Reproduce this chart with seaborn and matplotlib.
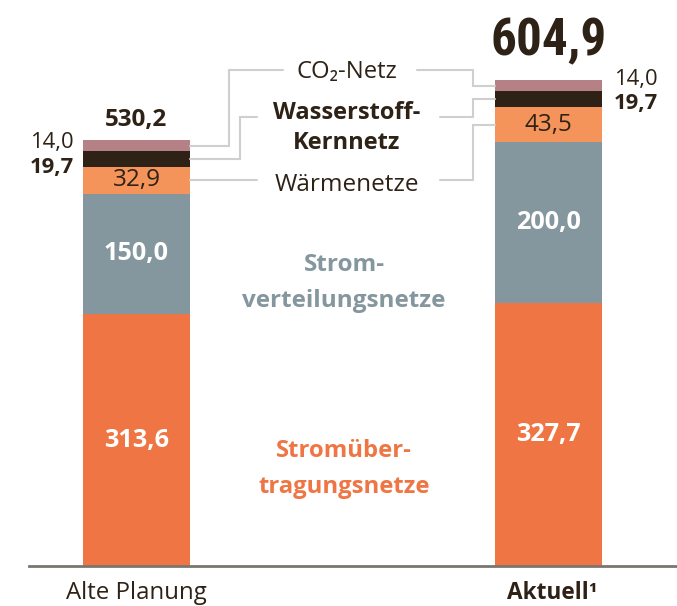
import matplotlib
matplotlib.use("Agg")
import matplotlib.pyplot as plt
from matplotlib import font_manager
import seaborn as sns
import pandas as pd
import numpy as np

# ---- data ----
categories = ["Alte Planung", "Aktuell¹"]
strom_uebertragung = [313.6, 327.7]
strom_verteilung = [150.0, 200.0]
waermenetze = [32.9, 43.5]
wasserstoff = [19.7, 19.7]
co2_netz = [14.0, 14.0]
totals = ["530,2", "604,9"]

series_names = ["Stromübertragungsnetze", "Stromverteilungsnetze", "Wärmenetze",
                "Wasserstoff-Kernnetz", "CO2-Netz"]
series_values = [strom_uebertragung, strom_verteilung, waermenetze, wasserstoff, co2_netz]
colors = ["#EF7644", "#85979E", "#F4945A", "#2E2216", "#B58086"]

sns.set_theme(style="white")
plt.rcParams["font.family"] = ["Open Sans", "DejaVu Sans"]
DARK = "#2E2216"

# find a condensed bold face for the big total, if installed
big_font = None
prefs = ["roboto condensed", "open sans condensed", "opensans_condensed",
         "dejavu sans condensed", "dejavusanscondensed", "liberation sans narrow",
         "liberationsansnarrow"]
cands = []
for f in font_manager.fontManager.ttflist:
    key = (f.name + " " + f.fname).lower()
    if ("condensed" in key or "narrow" in key) and (
            (isinstance(f.weight, int) and f.weight >= 600) or
            str(f.weight) in ("bold", "heavy", "black", "extra bold", "semibold", "demibold")):
        rank = len(prefs)
        for k, p in enumerate(prefs):
            if p in key:
                rank = k
                break
        w = f.weight if isinstance(f.weight, int) else 700
        cands.append((rank, -w, f.fname))
if cands:
    cands.sort()
    big_font = font_manager.FontProperties(fname=cands[0][2])

W, H = 677, 606
fig = plt.figure(figsize=(W / 100, H / 100), dpi=100)
base_px = 566
scale = 0.8034          # px per unit
left_px = 29
ax = fig.add_axes([left_px / W, (H - base_px) / H, (W - left_px) / W, base_px / H])

# stacked bars via cumulative overlap
cum = np.cumsum(np.array(series_values), axis=0)
rows = []
for i, name in enumerate(series_names):
    for j, c in enumerate(categories):
        rows.append({"cat": c, "series": name, "top": cum[i, j]})
df = pd.DataFrame(rows)
for i in reversed(range(len(series_names))):
    sub = df[df.series == series_names[i]]
    sns.barplot(data=sub, x="cat", y="top", order=categories, color=colors[i],
                width=0.26, saturation=1, linewidth=0, ax=ax)

unit = 412.0
c0 = 136.5
ax.set_xlim(-(c0 - left_px) / unit, 1 + (W - (c0 + unit)) / unit)
ax.set_ylim(0, base_px / scale)

def xd(px):
    return (px - c0) / unit

def yd(py):
    return (base_px - py) / scale

for s in ["top", "right", "left"]:
    ax.spines[s].set_visible(False)
ax.spines["bottom"].set_color("#7A7570")
ax.spines["bottom"].set_linewidth(2)
ax.set_xticks([])
ax.set_yticks([])
ax.set_xlabel("")
ax.set_ylabel("")

# category labels
ax.text(0, yd(593), categories[0], ha="center", va="center", fontsize=17.3,
        color=DARK, clip_on=False)
ax.text(1.01, yd(593), categories[1], ha="center", va="center", fontsize=16.3,
        color=DARK, fontweight="bold", clip_on=False)

mid = cum - np.array(series_values) / 2
fmt = lambda v: f"{v:.1f}".replace(".", ",")
for j in range(2):
    ax.text(j, mid[0, j], fmt(strom_uebertragung[j]), ha="center", va="center",
            fontsize=18.2, fontweight="bold", color="white")
    ax.text(j, mid[1, j], fmt(strom_verteilung[j]), ha="center", va="center",
            fontsize=18.2, fontweight="bold", color="white")
    ax.text(j, mid[2, j], fmt(waermenetze[j]), ha="center", va="center",
            fontsize=17.5, color=DARK)

ax.text(xd(74), yd(142.5), fmt(co2_netz[0]), ha="right", va="center", fontsize=15.8, color=DARK)
ax.text(xd(74), yd(167), fmt(wasserstoff[0]), ha="right", va="center", fontsize=15.8,
        fontweight="bold", color=DARK)
ax.text(xd(614), yd(79.5), fmt(co2_netz[1]), ha="left", va="center", fontsize=15.8, color=DARK)
ax.text(xd(614), yd(104), fmt(wasserstoff[1]), ha="left", va="center", fontsize=15.8,
        fontweight="bold", color=DARK)

ax.text(0, yd(120), totals[0], ha="center", va="center", fontsize=17.5,
        fontweight="bold", color=DARK)

# big total: fit to the reference width (~115 px)
if big_font is not None:
    big = ax.text(1, yd(41), totals[1], ha="center", va="center", color=DARK,
                  fontproperties=big_font, clip_on=False)
else:
    big = ax.text(1, yd(41), totals[1], ha="center", va="center", color=DARK,
                  fontweight="bold", clip_on=False)
big.set_fontsize(50)
fig.canvas.draw()
wpx = big.get_window_extent().width
fs = 50 * 116.0 / wpx
big.set_fontsize(min(fs, 58))

cx = xd(347)
ax.text(cx, yd(72), "CO₂-Netz", ha="center", va="center", fontsize=17.2, color=DARK)
ax.text(cx, yd(113), "Wasserstoff-", ha="center", va="center", fontsize=17,
        fontweight="bold", color=DARK)
ax.text(cx, yd(143), "Kernnetz", ha="center", va="center", fontsize=17,
        fontweight="bold", color=DARK)
ax.text(cx, yd(185), "Wärmenetze", ha="center", va="center", fontsize=17.5, color=DARK)
ax.text(xd(344), yd(265), "Strom-", ha="center", va="center", fontsize=17.5,
        fontweight="bold", color=colors[1])
ax.text(xd(344), yd(301), "verteilungsnetze", ha="center", va="center", fontsize=17.5,
        fontweight="bold", color=colors[1])
ax.text(xd(344), yd(451), "Stromüber-", ha="center", va="center", fontsize=17.2,
        fontweight="bold", color=colors[0])
ax.text(xd(344), yd(487), "tragungsnetze", ha="center", va="center", fontsize=17.2,
        fontweight="bold", color=colors[0])

LC = "#CFCFCF"
bw = 0.13
lk = dict(color=LC, lw=1.5, solid_joinstyle="miter")
ax.plot([bw, xd(229), xd(229), xd(283)], [mid[4, 0], mid[4, 0], yd(70), yd(70)], **lk)
ax.plot([xd(417), xd(473), xd(473), 1 - bw], [yd(70), yd(70), mid[4, 1], mid[4, 1]], **lk)
ax.plot([bw, xd(240), xd(240), xd(257)], [mid[3, 0], mid[3, 0], yd(117), yd(117)], **lk)
ax.plot([xd(440), xd(473), xd(473), 1 - bw], [yd(117), yd(117), mid[3, 1], mid[3, 1]], **lk)
ax.plot([bw, xd(257)], [mid[2, 0], mid[2, 0]], **lk)
ax.plot([xd(440), xd(473), xd(473), 1 - bw], [mid[2, 0], mid[2, 0], mid[2, 1], mid[2, 1]], **lk)

fig.savefig("out.png", dpi=100)
